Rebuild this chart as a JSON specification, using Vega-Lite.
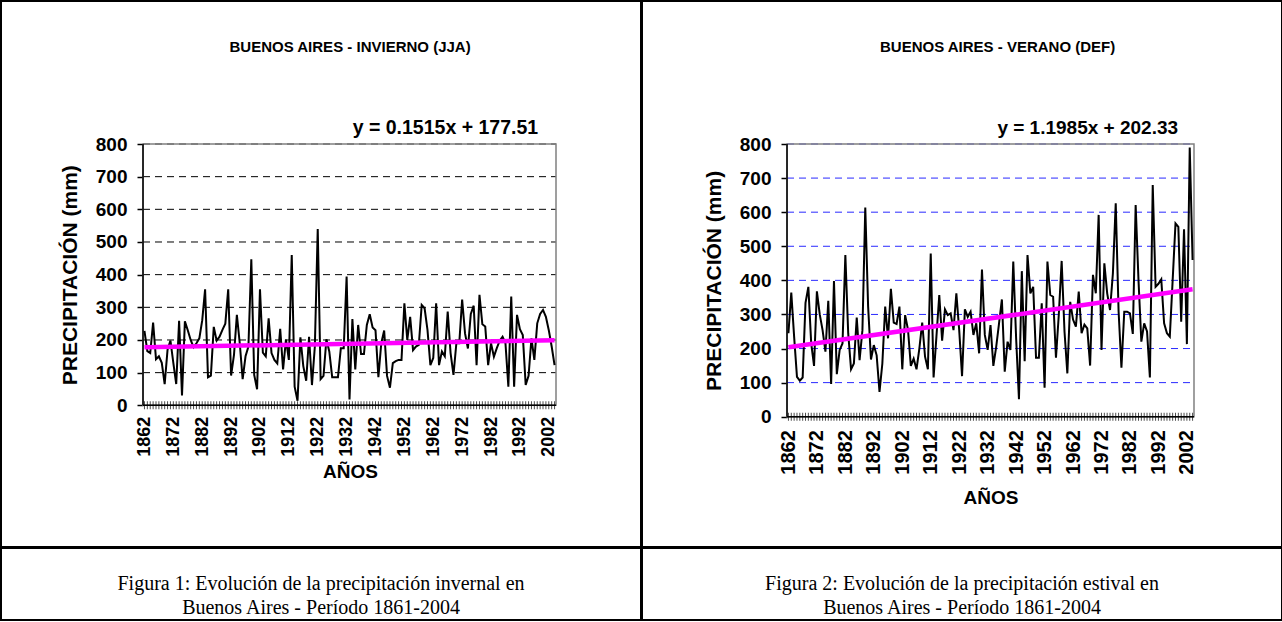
{
  "$schema": "https://vega.github.io/schema/vega-lite/v6.json",
  "padding": 0,
  "background": "white",
  "config": {
    "view": {"stroke": "black", "strokeWidth": 2},
    "axis": {"labelFont": "Liberation Sans", "titleFont": "Liberation Sans", "labelFontWeight": "bold", "titleFontWeight": "bold", "labelColor": "black", "titleColor": "black", "grid": false, "labelFlush": false, "labelOverlap": false},
    "text": {"font": "Liberation Sans", "fontWeight": "bold", "color": "black"}
  },
  "datasets": {
    "winter": [
      {"year":1862,"mm":228},{"year":1863,"mm":166},{"year":1864,"mm":160},{"year":1865,"mm":253},{"year":1866,"mm":141},{"year":1867,"mm":150},{"year":1868,"mm":130},{"year":1869,"mm":65},{"year":1870,"mm":170},{"year":1871,"mm":198},
      {"year":1872,"mm":130},{"year":1873,"mm":65},{"year":1874,"mm":259},{"year":1875,"mm":30},{"year":1876,"mm":257},{"year":1877,"mm":230},{"year":1878,"mm":200},{"year":1879,"mm":178},{"year":1880,"mm":190},{"year":1881,"mm":205},
      {"year":1882,"mm":260},{"year":1883,"mm":355},{"year":1884,"mm":86},{"year":1885,"mm":91},{"year":1886,"mm":240},{"year":1887,"mm":198},{"year":1888,"mm":210},{"year":1889,"mm":231},{"year":1890,"mm":250},{"year":1891,"mm":355},
      {"year":1892,"mm":91},{"year":1893,"mm":154},{"year":1894,"mm":277},{"year":1895,"mm":190},{"year":1896,"mm":80},{"year":1897,"mm":150},{"year":1898,"mm":180},{"year":1899,"mm":447},{"year":1900,"mm":93},{"year":1901,"mm":49},
      {"year":1902,"mm":355},{"year":1903,"mm":161},{"year":1904,"mm":150},{"year":1905,"mm":266},{"year":1906,"mm":160},{"year":1907,"mm":139},{"year":1908,"mm":128},{"year":1909,"mm":234},{"year":1910,"mm":110},{"year":1911,"mm":202},
      {"year":1912,"mm":139},{"year":1913,"mm":460},{"year":1914,"mm":57},{"year":1915,"mm":14},{"year":1916,"mm":208},{"year":1917,"mm":120},{"year":1918,"mm":75},{"year":1919,"mm":210},{"year":1920,"mm":62},{"year":1921,"mm":180},
      {"year":1922,"mm":540},{"year":1923,"mm":80},{"year":1924,"mm":90},{"year":1925,"mm":202},{"year":1926,"mm":165},{"year":1927,"mm":86},{"year":1928,"mm":86},{"year":1929,"mm":86},{"year":1930,"mm":175},{"year":1931,"mm":175},
      {"year":1932,"mm":394},{"year":1933,"mm":18},{"year":1934,"mm":264},{"year":1935,"mm":110},{"year":1936,"mm":246},{"year":1937,"mm":157},{"year":1938,"mm":157},{"year":1939,"mm":246},{"year":1940,"mm":279},{"year":1941,"mm":238},
      {"year":1942,"mm":230},{"year":1943,"mm":86},{"year":1944,"mm":190},{"year":1945,"mm":229},{"year":1946,"mm":90},{"year":1947,"mm":54},{"year":1948,"mm":129},{"year":1949,"mm":135},{"year":1950,"mm":139},{"year":1951,"mm":139},
      {"year":1952,"mm":312},{"year":1953,"mm":200},{"year":1954,"mm":271},{"year":1955,"mm":169},{"year":1956,"mm":180},{"year":1957,"mm":185},{"year":1958,"mm":307},{"year":1959,"mm":297},{"year":1960,"mm":231},{"year":1961,"mm":123},
      {"year":1962,"mm":145},{"year":1963,"mm":312},{"year":1964,"mm":123},{"year":1965,"mm":165},{"year":1966,"mm":150},{"year":1967,"mm":287},{"year":1968,"mm":160},{"year":1969,"mm":93},{"year":1970,"mm":190},{"year":1971,"mm":190},
      {"year":1972,"mm":324},{"year":1973,"mm":220},{"year":1974,"mm":174},{"year":1975,"mm":280},{"year":1976,"mm":305},{"year":1977,"mm":123},{"year":1978,"mm":338},{"year":1979,"mm":248},{"year":1980,"mm":241},{"year":1981,"mm":123},
      {"year":1982,"mm":190},{"year":1983,"mm":149},{"year":1984,"mm":175},{"year":1985,"mm":198},{"year":1986,"mm":210},{"year":1987,"mm":190},{"year":1988,"mm":57},{"year":1989,"mm":333},{"year":1990,"mm":57},{"year":1991,"mm":277},
      {"year":1992,"mm":233},{"year":1993,"mm":215},{"year":1994,"mm":62},{"year":1995,"mm":90},{"year":1996,"mm":205},{"year":1997,"mm":139},{"year":1998,"mm":251},{"year":1999,"mm":280},{"year":2000,"mm":292},{"year":2001,"mm":271},
      {"year":2002,"mm":230},{"year":2003,"mm":180},{"year":2004,"mm":123}
    ],
    "summer": [
      {"year":1862,"mm":245},{"year":1863,"mm":364},{"year":1864,"mm":235},{"year":1865,"mm":117},{"year":1866,"mm":106},{"year":1867,"mm":115},{"year":1868,"mm":334},{"year":1869,"mm":381},{"year":1870,"mm":215},{"year":1871,"mm":149},
      {"year":1872,"mm":368},{"year":1873,"mm":300},{"year":1874,"mm":254},{"year":1875,"mm":191},{"year":1876,"mm":340},{"year":1877,"mm":96},{"year":1878,"mm":398},{"year":1879,"mm":125},{"year":1880,"mm":196},{"year":1881,"mm":215},
      {"year":1882,"mm":474},{"year":1883,"mm":245},{"year":1884,"mm":139},{"year":1885,"mm":156},{"year":1886,"mm":291},{"year":1887,"mm":166},{"year":1888,"mm":254},{"year":1889,"mm":614},{"year":1890,"mm":323},{"year":1891,"mm":168},
      {"year":1892,"mm":210},{"year":1893,"mm":180},{"year":1894,"mm":73},{"year":1895,"mm":156},{"year":1896,"mm":323},{"year":1897,"mm":230},{"year":1898,"mm":375},{"year":1899,"mm":276},{"year":1900,"mm":272},{"year":1901,"mm":323},
      {"year":1902,"mm":139},{"year":1903,"mm":298},{"year":1904,"mm":256},{"year":1905,"mm":149},{"year":1906,"mm":170},{"year":1907,"mm":139},{"year":1908,"mm":200},{"year":1909,"mm":276},{"year":1910,"mm":176},{"year":1911,"mm":139},
      {"year":1912,"mm":479},{"year":1913,"mm":115},{"year":1914,"mm":235},{"year":1915,"mm":357},{"year":1916,"mm":223},{"year":1917,"mm":315},{"year":1918,"mm":298},{"year":1919,"mm":303},{"year":1920,"mm":254},{"year":1921,"mm":362},
      {"year":1922,"mm":254},{"year":1923,"mm":119},{"year":1924,"mm":315},{"year":1925,"mm":293},{"year":1926,"mm":308},{"year":1927,"mm":240},{"year":1928,"mm":274},{"year":1929,"mm":186},{"year":1930,"mm":432},{"year":1931,"mm":240},
      {"year":1932,"mm":196},{"year":1933,"mm":269},{"year":1934,"mm":149},{"year":1935,"mm":205},{"year":1936,"mm":274},{"year":1937,"mm":344},{"year":1938,"mm":132},{"year":1939,"mm":220},{"year":1940,"mm":196},{"year":1941,"mm":455},
      {"year":1942,"mm":230},{"year":1943,"mm":51},{"year":1944,"mm":427},{"year":1945,"mm":163},{"year":1946,"mm":474},{"year":1947,"mm":362},{"year":1948,"mm":381},{"year":1949,"mm":173},{"year":1950,"mm":173},{"year":1951,"mm":333},
      {"year":1952,"mm":85},{"year":1953,"mm":455},{"year":1954,"mm":357},{"year":1955,"mm":352},{"year":1956,"mm":173},{"year":1957,"mm":300},{"year":1958,"mm":457},{"year":1959,"mm":250},{"year":1960,"mm":127},{"year":1961,"mm":337},
      {"year":1962,"mm":285},{"year":1963,"mm":264},{"year":1964,"mm":367},{"year":1965,"mm":245},{"year":1966,"mm":270},{"year":1967,"mm":259},{"year":1968,"mm":150},{"year":1969,"mm":416},{"year":1970,"mm":362},{"year":1971,"mm":592},
      {"year":1972,"mm":196},{"year":1973,"mm":450},{"year":1974,"mm":362},{"year":1975,"mm":313},{"year":1976,"mm":420},{"year":1977,"mm":626},{"year":1978,"mm":310},{"year":1979,"mm":144},{"year":1980,"mm":308},{"year":1981,"mm":308},
      {"year":1982,"mm":303},{"year":1983,"mm":243},{"year":1984,"mm":621},{"year":1985,"mm":400},{"year":1986,"mm":220},{"year":1987,"mm":274},{"year":1988,"mm":250},{"year":1989,"mm":115},{"year":1990,"mm":680},{"year":1991,"mm":381},
      {"year":1992,"mm":390},{"year":1993,"mm":403},{"year":1994,"mm":274},{"year":1995,"mm":245},{"year":1996,"mm":235},{"year":1997,"mm":400},{"year":1998,"mm":567},{"year":1999,"mm":557},{"year":2000,"mm":279},{"year":2001,"mm":550},
      {"year":2002,"mm":213},{"year":2003,"mm":790},{"year":2004,"mm":460}
    ],
    "trendW": [{"year":1862,"t":177.66},{"year":2004,"t":199.17}],
    "trendS": [{"year":1862,"t":203.53},{"year":2004,"t":373.72}],
    "grid": [{"g":100},{"g":200},{"g":300},{"g":400},{"g":500},{"g":600},{"g":700},{"g":800}]
  },
  "spacing": -2,
  "hconcat": [
    {
      "spacing": -2,
      "vconcat": [
        {
          "width": 640,
          "height": 546,
          "layer": [
            {
              "data": {"name": "grid"},
              "mark": {"type": "rule", "color": "black", "strokeWidth": 1, "strokeDash": [7, 5]},
              "encoding": {
                "y": {"field": "g", "type": "quantitative"},
                "x": {"datum": 1861.5},
                "x2": {"datum": 2004.5}
              }
            },
            {
              "data": {"values": [{"box": "plot"}]},
              "mark": {"type": "rect", "fill": "transparent", "stroke": "#808080", "strokeWidth": 1.5},
              "encoding": {
                "x": {"datum": 1861.5},
                "x2": {"datum": 2004.5},
                "y": {"datum": 0},
                "y2": {"datum": 800}
              }
            },
            {
              "data": {"name": "winter"},
              "mark": {"type": "line", "color": "black", "strokeWidth": 2},
              "encoding": {
                "x": {
                  "field": "year", "type": "quantitative",
                  "scale": {"domain": [1812.33, 2033.93], "nice": false, "zero": false},
                  "axis": {
                    "values": [1862,1872,1882,1892,1902,1912,1922,1932,1942,1952,1962,1972,1982,1992,2002],
                    "format": "d", "labelAngle": 270, "offset": -141.7, "ticks": false, "tickSize": 0, "domain": false,
                    "labelPadding": 11, "labelFontSize": 18, "title": "AÑOS", "titleFontSize": 19, "titlePadding": 6, "titleX": 349
                  }
                },
                "y": {
                  "field": "mm", "type": "quantitative",
                  "scale": {"domain": [-433.8, 1237.8], "nice": false, "zero": false},
                  "axis": {
                    "values": [0,100,200,300,400,500,600,700,800],
                    "offset": -142, "domain": false, "tickSize": 6, "tickColor": "black", "tickWidth": 1.5,
                    "labelPadding": 10, "labelFontSize": 19, "title": "PRECIPITACIÓN (mm)", "titleFontSize": 21, "titlePadding": 15, "titleY": 273.7
                  }
                }
              }
            },
            {
              "data": {"name": "winter"},
              "mark": {"type": "tick", "orient": "vertical", "size": 8, "thickness": 1, "color": "black"},
              "encoding": {
                "x": {"field": "year", "type": "quantitative"},
                "y": {"datum": 0}
              }
            },
            {
              "data": {"name": "trendW"},
              "mark": {"type": "line", "color": "#ff00ff", "strokeWidth": 4.5},
              "encoding": {
                "x": {"field": "year", "type": "quantitative"},
                "y": {"field": "t", "type": "quantitative"}
              }
            },
            {
              "data": {"values": [{"side": "y"}]},
              "mark": {"type": "rule", "color": "black", "strokeWidth": 1.5},
              "encoding": {
                "x": {"datum": 1861.5},
                "y": {"datum": 0},
                "y2": {"datum": 800}
              }
            },
            {
              "data": {"values": [{"side": "x"}]},
              "mark": {"type": "rule", "color": "black", "strokeWidth": 1.5},
              "encoding": {
                "y": {"datum": 0},
                "x": {"datum": 1861.5},
                "x2": {"datum": 2004.5}
              }
            },
            {
              "data": {"values": [{"label": "BUENOS AIRES -  INVIERNO (JJA)"}]},
              "mark": {"type": "text", "fontSize": 15, "align": "center", "baseline": "middle"},
              "encoding": {
                "text": {"field": "label"},
                "x": {"datum": 1933.2},
                "y": {"datum": 1097}
              }
            },
            {
              "data": {"values": [{"label": "y = 0.1515x + 177.51"}]},
              "mark": {"type": "text", "fontSize": 19.5, "align": "right", "baseline": "middle"},
              "encoding": {
                "text": {"field": "label"},
                "x": {"datum": 1998.3},
                "y": {"datum": 849}
              }
            }
          ]
        },
        {
          "width": 640,
          "height": 72,
          "data": {"values": [{"caption": "Figura 1"}]},
          "mark": {"type": "text", "font": "Liberation Serif", "fontWeight": "normal", "fontSize": 20, "lineHeight": 24, "align": "center", "baseline": "middle"},
          "encoding": {
            "x": {"datum": 0, "type": "quantitative", "scale": {"domain": [-1, 1]}, "axis": null},
            "y": {"datum": 0, "type": "quantitative", "scale": {"domain": [-1, 1]}, "axis": null},
            "text": {"value": ["Figura 1: Evolución de la precipitación invernal en", "Buenos Aires - Período 1861-2004"]}
          }
        }
      ]
    },
    {
      "spacing": -2,
      "vconcat": [
        {
          "width": 640,
          "height": 546,
          "layer": [
            {
              "data": {"name": "grid"},
              "mark": {"type": "rule", "color": "#2a2aff", "strokeWidth": 1, "strokeDash": [7, 5]},
              "encoding": {
                "y": {"field": "g", "type": "quantitative"},
                "x": {"datum": 1861.5},
                "x2": {"datum": 2004.5}
              }
            },
            {
              "data": {"values": [{"box": "plot"}]},
              "mark": {"type": "rect", "fill": "transparent", "stroke": "#808080", "strokeWidth": 1.5},
              "encoding": {
                "x": {"datum": 1861.5},
                "x2": {"datum": 2004.5},
                "y": {"datum": 0},
                "y2": {"datum": 800}
              }
            },
            {
              "data": {"name": "summer"},
              "mark": {"type": "line", "color": "black", "strokeWidth": 2},
              "encoding": {
                "x": {
                  "field": "year", "type": "quantitative",
                  "scale": {"domain": [1810.55, 2035.42], "nice": false, "zero": false},
                  "axis": {
                    "values": [1862,1872,1882,1892,1902,1912,1922,1932,1942,1952,1962,1972,1982,1992,2002],
                    "format": "d", "labelAngle": 270, "offset": -130.3, "ticks": false, "tickSize": 0, "domain": false,
                    "labelPadding": 13, "labelFontSize": 20, "title": "AÑOS", "titleFontSize": 19, "titlePadding": 14, "titleX": 348.5
                  }
                },
                "y": {
                  "field": "mm", "type": "quantitative",
                  "scale": {"domain": [-382.2, 1219.5], "nice": false, "zero": false},
                  "axis": {
                    "values": [0,100,200,300,400,500,600,700,800],
                    "offset": -145, "domain": false, "tickSize": 6, "tickColor": "black", "tickWidth": 1.5,
                    "labelPadding": 10, "labelFontSize": 19, "title": "PRECIPITACIÓN (mm)", "titleFontSize": 21, "titlePadding": 15, "titleY": 279.4
                  }
                }
              }
            },
            {
              "data": {"name": "summer"},
              "mark": {"type": "tick", "orient": "vertical", "size": 8, "thickness": 1, "color": "black"},
              "encoding": {
                "x": {"field": "year", "type": "quantitative"},
                "y": {"datum": 0}
              }
            },
            {
              "data": {"name": "trendS"},
              "mark": {"type": "line", "color": "#ff00ff", "strokeWidth": 4.5},
              "encoding": {
                "x": {"field": "year", "type": "quantitative"},
                "y": {"field": "t", "type": "quantitative"}
              }
            },
            {
              "data": {"values": [{"side": "y"}]},
              "mark": {"type": "rule", "color": "black", "strokeWidth": 1.5},
              "encoding": {
                "x": {"datum": 1861.5},
                "y": {"datum": 0},
                "y2": {"datum": 800}
              }
            },
            {
              "data": {"values": [{"side": "x"}]},
              "mark": {"type": "rule", "color": "black", "strokeWidth": 1.5},
              "encoding": {
                "y": {"datum": 0},
                "x": {"datum": 1861.5},
                "x2": {"datum": 2004.5}
              }
            },
            {
              "data": {"values": [{"label": "BUENOS AIRES -  VERANO (DEF)"}]},
              "mark": {"type": "text", "fontSize": 15, "align": "center", "baseline": "middle"},
              "encoding": {
                "text": {"field": "label"},
                "x": {"datum": 1935.5},
                "y": {"datum": 1084.6}
              }
            },
            {
              "data": {"values": [{"label": "y = 1.1985x + 202.33"}]},
              "mark": {"type": "text", "fontSize": 19, "align": "right", "baseline": "middle"},
              "encoding": {
                "text": {"field": "label"},
                "x": {"datum": 1998.9},
                "y": {"datum": 847}
              }
            }
          ]
        },
        {
          "width": 640,
          "height": 72,
          "data": {"values": [{"caption": "Figura 2"}]},
          "mark": {"type": "text", "font": "Liberation Serif", "fontWeight": "normal", "fontSize": 20, "lineHeight": 24, "align": "center", "baseline": "middle"},
          "encoding": {
            "x": {"datum": 0, "type": "quantitative", "scale": {"domain": [-1, 1]}, "axis": null},
            "y": {"datum": 0, "type": "quantitative", "scale": {"domain": [-1, 1]}, "axis": null},
            "text": {"value": ["Figura 2: Evolución de la precipitación estival en", "Buenos Aires - Período 1861-2004"]}
          }
        }
      ]
    }
  ]
}
